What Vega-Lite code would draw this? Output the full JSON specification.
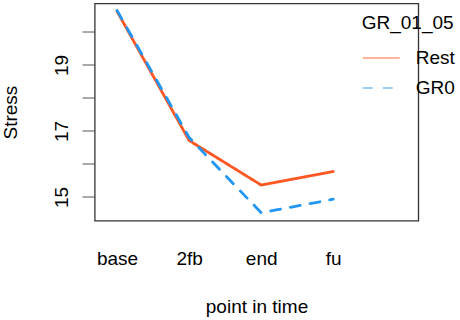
{
  "$schema": "https://vega.github.io/schema/vega-lite/v6.json",
  "width": 323.6,
  "height": 217.2,
  "autosize": {"type": "none"},
  "padding": {"left": 94.7, "top": 3.5, "right": 41.7, "bottom": 99.3},
  "background": "white",
  "config": {
    "font": "Liberation Sans",
    "view": {"stroke": "#333333", "strokeWidth": 1.3}
  },
  "data": {
    "values": [
      {"t": 1, "time": "base", "group": "Rest", "stress": 20.62},
      {"t": 2, "time": "2fb", "group": "Rest", "stress": 16.71},
      {"t": 3, "time": "end", "group": "Rest", "stress": 15.36},
      {"t": 4, "time": "fu", "group": "Rest", "stress": 15.77},
      {"t": 1, "time": "base", "group": "GR0", "stress": 20.65},
      {"t": 2, "time": "2fb", "group": "GR0", "stress": 16.8},
      {"t": 3, "time": "end", "group": "GR0", "stress": 14.52},
      {"t": 4, "time": "fu", "group": "GR0", "stress": 14.93}
    ]
  },
  "mark": {"type": "line", "strokeWidth": 2.8, "strokeCap": "round", "strokeJoin": "round"},
  "encoding": {
    "x": {
      "field": "t",
      "type": "quantitative",
      "scale": {"domain": [0.69, 5.18], "nice": false, "zero": false},
      "axis": {
        "values": [1, 2, 3, 4],
        "labelExpr": "datum.value == 1 ? 'base' : datum.value == 2 ? '2fb' : datum.value == 3 ? 'end' : 'fu'",
        "domain": false,
        "ticks": false,
        "grid": false,
        "labelFontSize": 19,
        "labelColor": "#000000",
        "labelBaseline": "alphabetic",
        "labelPadding": 44,
        "labelFlush": false,
        "labelOverlap": false,
        "title": "point in time",
        "titleFontSize": 19,
        "titleFontWeight": "normal",
        "titleColor": "#000000",
        "titleBaseline": "alphabetic",
        "titleY": 92
      }
    },
    "y": {
      "field": "stress",
      "type": "quantitative",
      "scale": {"domain": [14.28, 20.86], "nice": false, "zero": false},
      "axis": {
        "values": [15, 16, 17, 18, 19, 20],
        "labelExpr": "datum.value % 2 == 1 ? datum.label : ''",
        "domain": false,
        "grid": false,
        "tickSize": 12.7,
        "tickColor": "#555555",
        "tickWidth": 1,
        "labelAngle": -90,
        "labelAlign": "center",
        "labelBaseline": "bottom",
        "labelPadding": 11,
        "labelFontSize": 19,
        "labelColor": "#000000",
        "labelOverlap": false,
        "labelFlush": false,
        "title": "Stress",
        "titleFontSize": 19,
        "titleFontWeight": "normal",
        "titleColor": "#000000",
        "titleAngle": -90,
        "titleAlign": "center",
        "titleBaseline": "middle",
        "titleX": -84,
        "titleY": 108.6
      }
    },
    "color": {
      "field": "group",
      "type": "nominal",
      "scale": {"domain": ["Rest", "GR0"], "range": ["#FF5722", "#2196F3"]},
      "legend": {
        "title": "GR_01_05",
        "orient": "none",
        "legendX": 267,
        "legendY": 10,
        "titleFontSize": 19,
        "titleFontWeight": "normal",
        "titleColor": "#000000",
        "titlePadding": 6,
        "labelFontSize": 19,
        "labelColor": "#000000",
        "labelOffset": 15,
        "symbolType": "stroke",
        "symbolSize": 1369,
        "symbolStrokeWidth": 1.5,
        "symbolOpacity": 0.6,
        "rowPadding": -7
      }
    },
    "strokeDash": {
      "field": "group",
      "type": "nominal",
      "scale": {"domain": ["Rest", "GR0"], "range": [[1, 0], [10, 10]]},
      "legend": null
    }
  }
}
